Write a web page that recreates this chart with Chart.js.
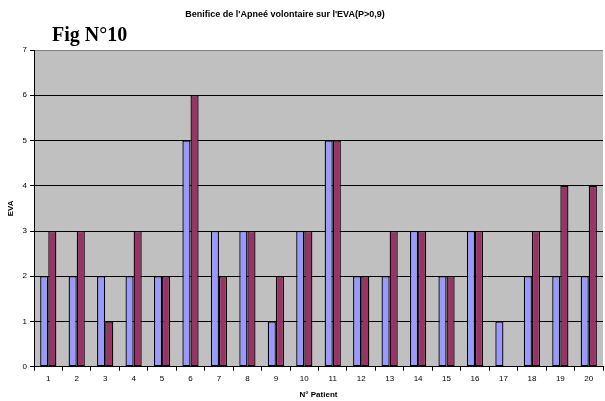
<!DOCTYPE html>
<html>
<head>
<meta charset="utf-8">
<script src="https://cdn.jsdelivr.net/npm/chart.js@4/dist/chart.umd.min.js"></script>
<style>
  html, body { margin: 0; padding: 0; background: #ffffff; }
  #wrap { width: 605px; height: 401px; position: relative; }
</style>
</head>
<body>
<div id="wrap"><canvas id="c"></canvas></div>
<script>
// Patient numbers and EVA scores (two measurements per patient)
const patients = ['1','2','3','4','5','6','7','8','9','10','11','12','13','14','15','16','17','18','19','20'];
const evaSeriesA = [2, 2, 2, 2, 2, 5, 3, 3, 1, 3, 5, 2, 2, 3, 2, 3, 1, 2, 2, 2];
const evaSeriesB = [3, 3, 1, 3, 2, 6, 2, 3, 2, 3, 5, 2, 3, 3, 2, 3, 0, 3, 4, 4];
const yTicks = [0, 1, 2, 3, 4, 5, 6, 7];

const chartTitle = "Benifice de l'Apneé volontaire sur l'EVA(P>0,9)";
const figLabel = 'Fig N°10';

// Grey plot background plus the two headings
const decor = {
  id: 'decor',
  beforeDraw(chart) {
    const { ctx, chartArea: a } = chart;
    ctx.save();
    ctx.fillStyle = '#c0c0c0';
    ctx.fillRect(a.left, a.top, a.right - a.left, a.bottom - a.top);
    ctx.restore();
  },
  afterDraw(chart) {
    const ctx = chart.ctx;
    ctx.save();
    ctx.fillStyle = '#000';
    ctx.textBaseline = 'middle';
    ctx.textAlign = 'center';
    ctx.font = 'bold 9px "Liberation Sans", Arial, sans-serif';
    ctx.fillText(chartTitle, 285, 15);
    ctx.textAlign = 'left';
    ctx.font = 'bold 20px "Liberation Serif", "Times New Roman", serif';
    ctx.fillText(figLabel, 52, 36);
    ctx.restore();
  }
};

new Chart(document.getElementById('c'), {
  type: 'bar',
  data: {
    labels: patients,
    datasets: [
      { label: 'A', data: evaSeriesA, backgroundColor: '#9999ff', borderColor: '#000', borderWidth: 1.3, borderSkipped: false },
      { label: 'B', data: evaSeriesB, backgroundColor: '#993366', borderColor: '#000', borderWidth: 1.3, borderSkipped: false }
    ]
  },
  options: {
    responsive: true,
    maintainAspectRatio: false,
    animation: false,
    layout: { padding: { top: 50, right: 2, left: 6, bottom: 0 } },
    datasets: { bar: { categoryPercentage: 0.57, barPercentage: 1 } },
    plugins: {
      legend: { display: false },
      title: { display: false },
      tooltip: { enabled: false }
    },
    scales: {
      x: {
        grid: { display: true, drawOnChartArea: false, drawTicks: true, tickLength: 4, color: '#000', offset: true },
        border: { display: true, color: '#000', width: 1 },
        ticks: { color: '#000', font: { family: '"Liberation Sans", Arial, sans-serif', size: 8 }, maxRotation: 0, autoSkip: false, padding: 3 },
        title: { display: true, text: 'N° Patient', color: '#000', font: { family: '"Liberation Sans", Arial, sans-serif', size: 8, weight: 'bold' }, padding: { top: 4, bottom: 1 } }
      },
      y: {
        min: 0, max: 7,
        afterBuildTicks(scale) { scale.ticks = yTicks.map(v => ({ value: v })); },
        grid: {
          color: ctx => (ctx.tick && ctx.tick.value === 7 ? '#808080' : '#000'),
          tickColor: '#000',
          tickLength: 4,
          drawTicks: true
        },
        border: { display: true, color: '#000', width: 1 },
        ticks: { color: '#000', font: { family: '"Liberation Sans", Arial, sans-serif', size: 8 }, padding: 3 },
        title: { display: true, text: 'EVA', color: '#000', font: { family: '"Liberation Sans", Arial, sans-serif', size: 8, weight: 'bold' }, padding: { top: 0, bottom: 4 } }
      }
    }
  },
  plugins: [decor]
});
</script>
</body>
</html>
